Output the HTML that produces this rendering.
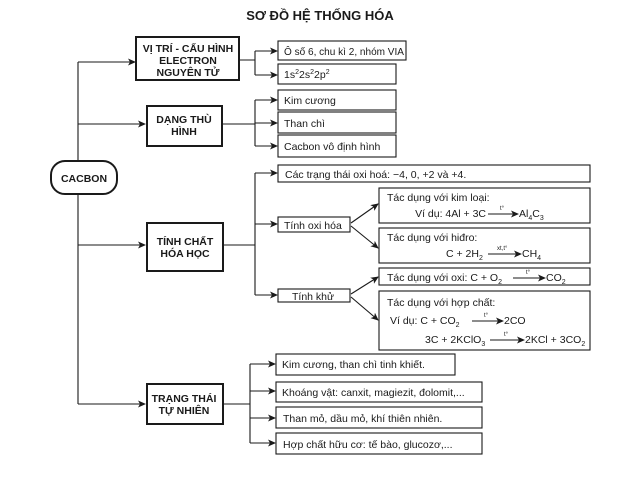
<!DOCTYPE html>
<html><head><meta charset="utf-8"><style>
body{margin:0;background:#fff}
svg{display:block}
text{font-family:"Liberation Sans",Arial,sans-serif;fill:#1a1a1a}
.b{font-weight:bold;font-size:10.5px}
.t{font-size:10.5px}
.s{font-size:7px}
</style></head><body>
<svg width="640" height="479" viewBox="0 0 640 479" xmlns="http://www.w3.org/2000/svg">
<defs><marker id="a" markerWidth="8" markerHeight="8" refX="7" refY="4" orient="auto" markerUnits="userSpaceOnUse"><path d="M0,0.5 L8,4 L0,7.5 L2,4 Z" fill="#1a1a1a"/></marker></defs>
<text x="320" y="20" text-anchor="middle" style="font-weight:bold;font-size:13px">SƠ ĐỒ HỆ THỐNG HÓA</text>
<g stroke="#1a1a1a" stroke-width="1.1" fill="none">
<path d="M78,62 V160 M78,194 V404"/>
<path d="M78,62 H135" marker-end="url(#a)"/>
<path d="M78,124 H145" marker-end="url(#a)"/>
<path d="M78,245 H145" marker-end="url(#a)"/>
<path d="M78,404 H145" marker-end="url(#a)"/>
<path d="M239,60 H255 M255,51 V75"/>
<path d="M255,51 H277" marker-end="url(#a)"/>
<path d="M255,75 H277" marker-end="url(#a)"/>
<path d="M222,124 H255 M255,100 V146"/>
<path d="M255,100 H277" marker-end="url(#a)"/>
<path d="M255,123 H277" marker-end="url(#a)"/>
<path d="M255,146 H277" marker-end="url(#a)"/>
<path d="M223,245 H255 M255,173 V295"/>
<path d="M255,173 H277" marker-end="url(#a)"/>
<path d="M255,224 H277" marker-end="url(#a)"/>
<path d="M255,295 H277" marker-end="url(#a)"/>
<path d="M351,223 L378,204" marker-end="url(#a)"/>
<path d="M351,226 L378,248" marker-end="url(#a)"/>
<path d="M351,294 L378,277" marker-end="url(#a)"/>
<path d="M351,297 L378,320" marker-end="url(#a)"/>
<path d="M223,404 H250 M250,364 V443"/>
<path d="M250,364 H275" marker-end="url(#a)"/>
<path d="M250,391 H275" marker-end="url(#a)"/>
<path d="M250,418 H275" marker-end="url(#a)"/>
<path d="M250,443 H275" marker-end="url(#a)"/>
</g>
<g stroke="#1a1a1a" stroke-width="2" fill="#fff">
<rect x="136" y="37" width="103" height="43"/>
<rect x="147" y="106" width="75" height="40"/>
<rect x="147" y="223" width="76" height="48"/>
<rect x="147" y="384" width="76" height="40"/>
<rect x="51" y="161" width="66" height="33" rx="14"/>
</g>
<g stroke="#1a1a1a" stroke-width="1.1" fill="#fff">
<rect x="278" y="41" width="128" height="19"/>
<rect x="278" y="64" width="118" height="20"/>
<rect x="278" y="90" width="118" height="20"/>
<rect x="278" y="112" width="118" height="21"/>
<rect x="278" y="135" width="118" height="22"/>
<rect x="278" y="165" width="312" height="17"/>
<rect x="278" y="217" width="72" height="15"/>
<rect x="278" y="289" width="72" height="13"/>
<rect x="379" y="188" width="211" height="35"/>
<rect x="379" y="228" width="211" height="35"/>
<rect x="379" y="268" width="211" height="17"/>
<rect x="379" y="291" width="211" height="59"/>
<rect x="276" y="354" width="179" height="21"/>
<rect x="276" y="382" width="206" height="20"/>
<rect x="276" y="407" width="206" height="21"/>
<rect x="276" y="433" width="206" height="21"/>
</g>
<text class="b" x="188" y="52" text-anchor="middle">VỊ TRÍ - CẤU HÌNH</text>
<text class="b" x="188" y="64" text-anchor="middle">ELECTRON</text>
<text class="b" x="188" y="76" text-anchor="middle">NGUYÊN TỬ</text>
<text class="b" x="184" y="123" text-anchor="middle">DẠNG THÙ</text>
<text class="b" x="184" y="135" text-anchor="middle">HÌNH</text>
<text class="b" x="185" y="245" text-anchor="middle">TÍNH CHẤT</text>
<text class="b" x="185" y="257" text-anchor="middle">HÓA HỌC</text>
<text class="b" x="184" y="402" text-anchor="middle">TRẠNG THÁI</text>
<text class="b" x="184" y="414" text-anchor="middle">TỰ NHIÊN</text>
<text class="b" x="84" y="182" text-anchor="middle">CACBON</text>
<text class="t" x="284" y="55" textLength="120" lengthAdjust="spacingAndGlyphs">Ô số 6, chu kì 2, nhóm VIA</text>
<text class="t" x="284" y="78">1s<tspan class="s" dy="-4">2</tspan><tspan dy="4">2s</tspan><tspan class="s" dy="-4">2</tspan><tspan dy="4">2p</tspan><tspan class="s" dy="-4">2</tspan></text>
<text class="t" x="284" y="104">Kim cương</text>
<text class="t" x="284" y="127">Than chì</text>
<text class="t" x="284" y="150">Cacbon vô định hình</text>
<text class="t" x="285" y="178">Các trạng thái oxi hoá: −4, 0, +2 và +4.</text>
<text class="t" x="284" y="229">Tính oxi hóa</text>
<text class="t" x="292" y="300">Tính khử</text>
<text class="t" x="387" y="201">Tác dụng với kim loại:</text>
<text class="t" x="486" y="217" text-anchor="end">Ví dụ:  4Al + 3C</text>
<text class="t" x="519" y="217">Al<tspan class="s" dy="3">4</tspan><tspan dy="-3">C</tspan><tspan class="s" dy="3">3</tspan></text>
<text class="t" x="387" y="241">Tác dụng với hiđro:</text>
<text class="t" x="446" y="257">C + 2H<tspan class="s" dy="3">2</tspan></text>
<text class="t" x="522" y="257">CH<tspan class="s" dy="3">4</tspan></text>
<text class="t" x="387" y="281">Tác dụng với oxi:  C + O<tspan class="s" dy="3">2</tspan></text>
<text class="t" x="546" y="281">CO<tspan class="s" dy="3">2</tspan></text>
<text class="t" x="387" y="306">Tác dụng với hợp chất:</text>
<text class="t" x="390" y="324">Ví dụ:  C + CO<tspan class="s" dy="3">2</tspan></text>
<text class="t" x="504" y="324">2CO</text>
<text class="t" x="425" y="343">3C + 2KClO<tspan class="s" dy="3">3</tspan></text>
<text class="t" x="525" y="343">2KCl + 3CO<tspan class="s" dy="3">2</tspan></text>
<g stroke="#1a1a1a" stroke-width="0.9" fill="none">
<path d="M488,214 H518" marker-end="url(#a)"/>
<path d="M488,254 H521" marker-end="url(#a)"/>
<path d="M513,278 H545" marker-end="url(#a)"/>
<path d="M472,321 H503" marker-end="url(#a)"/>
<path d="M490,340 H524" marker-end="url(#a)"/>
</g>
<g style="font-size:6px">
<text x="500" y="210">t°</text>
<text x="497" y="250">xt,t°</text>
<text x="526" y="274">t°</text>
<text x="484" y="317">t°</text>
<text x="504" y="336">t°</text>
</g>
<text class="t" x="282" y="368">Kim cương, than chì tinh khiết.</text>
<text class="t" x="282" y="396">Khoáng vật: canxit, magiezit, đolomit,...</text>
<text class="t" x="283" y="422">Than mỏ, dầu mỏ, khí thiên nhiên.</text>
<text class="t" x="283" y="448">Hợp chất hữu cơ: tế bào, glucozơ,...</text>
</svg>
</body></html>
